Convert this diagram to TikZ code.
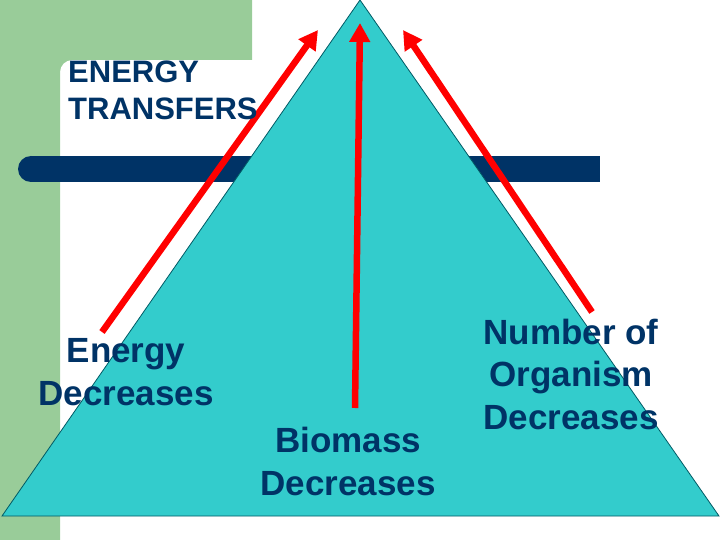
\documentclass[tikz,border=0pt]{standalone}
\usepackage{fontspec}
\setmainfont{Liberation Sans}
\usetikzlibrary{arrows.meta}
\definecolor{leafGreen}{RGB}{153,204,153}
\definecolor{deepNavy}{RGB}{0,51,102}
\definecolor{pyraTeal}{RGB}{51,204,204}
\definecolor{pyraEdge}{RGB}{0,90,100}
\definecolor{flowRed}{RGB}{255,0,0}
\tikzset{
  flowArrow/.style={flowRed,line width=6.5pt,-{Triangle[length=19pt,width=20pt]}},
  bigLabel/.style={text=deepNavy,align=center,anchor=base,inner sep=0pt,
    font=\bfseries\fontsize{35}{42.5}\selectfont}
}
\begin{document}
\begin{tikzpicture}[x=1pt,y=-1pt]
\useasboundingbox (0,0) rectangle (720,540);
% side band and top block
\fill[leafGreen] (0,0) -- (252,0) -- (252,60) [rounded corners=12pt] -- (60,60) [sharp corners] -- (60,540) -- (0,540) -- cycle;
% dark rule
\fill[deepNavy] (31,156) rectangle (600,182);
\fill[deepNavy] (31,169) circle[radius=13pt];
% pyramid
\filldraw[fill=pyraTeal,draw=pyraEdge,line width=0.8pt] (360,0) -- (719,516) -- (2,516) -- cycle;
% arrow ends
\coordinate (eLow) at (102,332);
\coordinate (eTop) at (318,30);
\coordinate (bLow) at (355,408);
\coordinate (bTop) at (360,23);
\coordinate (nLow) at (592,312);
\coordinate (nTop) at (403,30);
\draw[flowArrow] (eLow) -- (eTop);
\draw[flowArrow] (bLow) -- (bTop);
\draw[flowArrow] (nLow) -- (nTop);
% labels (base = last line)
\node[text=deepNavy,align=left,anchor=base west,inner sep=0pt,
      font=\bfseries\fontsize{31}{37}\selectfont] (title) at (68,120) {ENERGY\\TRANSFERS};
\node[bigLabel] (energy) at (126,405) {Energy\\Decreases};
\node[bigLabel] (biomass) at (348,495) {Biomass\\Decreases};
\node[bigLabel] (number) at (571,429) {Number of\\Organism\\Decreases};
\end{tikzpicture}
\end{document}
